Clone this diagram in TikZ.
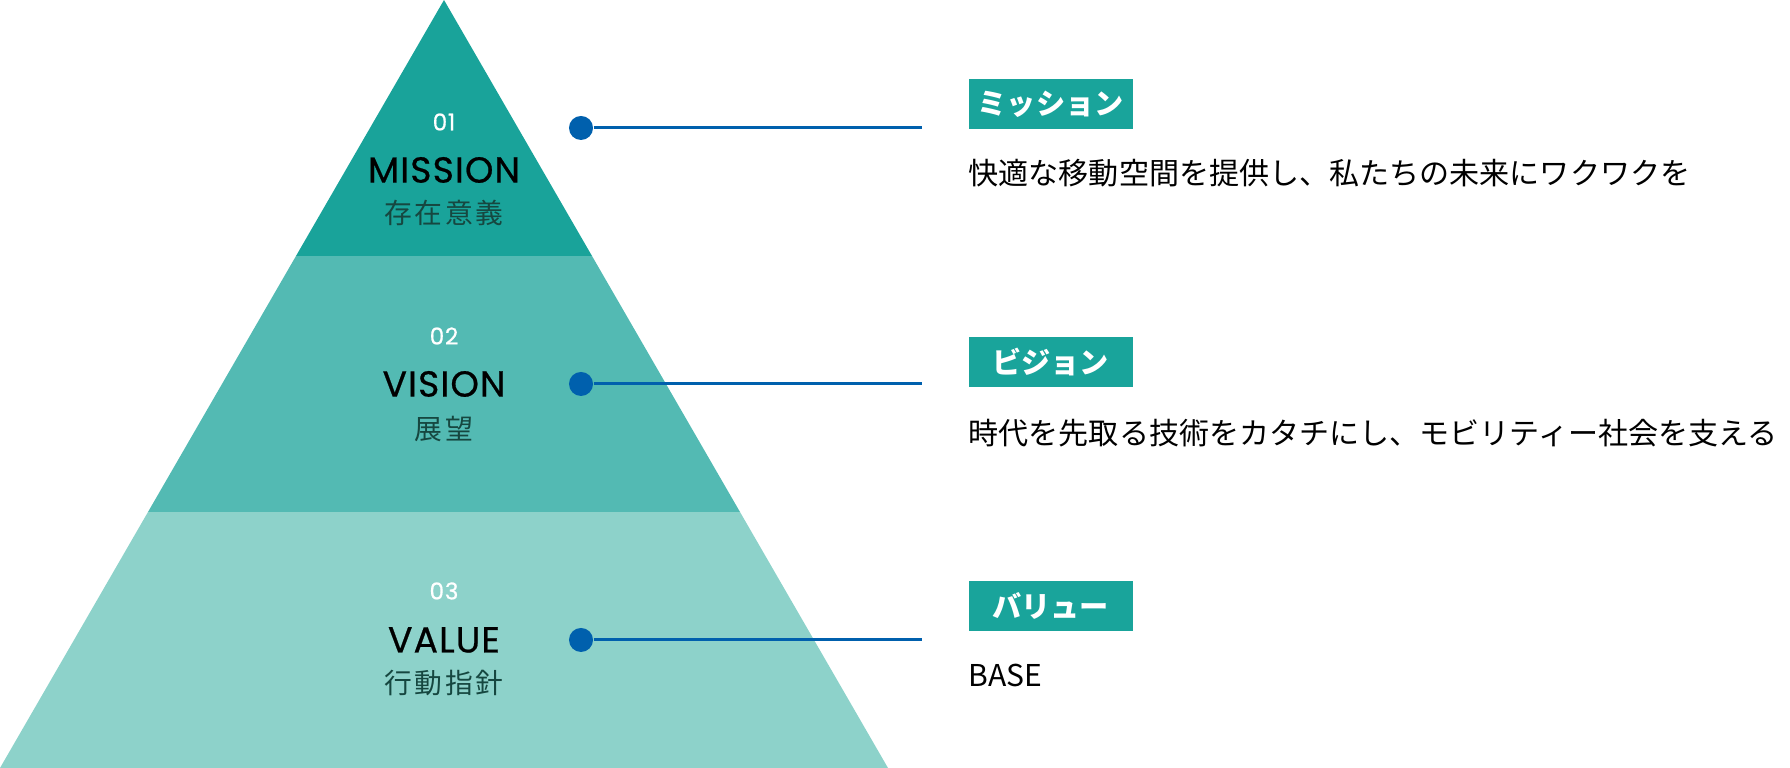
\documentclass[tikz,border=0pt]{standalone}
\usepackage{fontspec}
\setmainfont{Noto Sans CJK JP}
\newfontfamily\jpfont{Noto Sans CJK JP}
\newfontfamily\jpspaced[LetterSpace=10]{Noto Sans CJK JP}
\newfontfamily\geofont[LetterSpace=3,FakeBold=0.6]{Poppins}
\usepackage{tikz}
\usetikzlibrary{positioning}
\definecolor{bandtop}{HTML}{19A39A}
\definecolor{bandmid}{HTML}{53BAB3}
\definecolor{bandlow}{HTML}{8DD2CA}
\definecolor{tagteal}{HTML}{19A49B}
\definecolor{linkblue}{HTML}{0060AD}
\definecolor{jpgreen}{HTML}{164740}
\tikzset{
  lvlnum/.style={text=white,font=\geofont\fontsize{6.6}{7}\selectfont,inner sep=0pt},
  lvltitle/.style={text=black,font=\geofont\fontsize{10.3}{12}\selectfont,inner sep=0pt},
  lvljp/.style={text=jpgreen,font=\jpspaced\fontsize{7.9}{9}\selectfont,inner sep=0pt},
  dot/.style={circle,fill=linkblue,inner sep=0pt,minimum size=0.24cm},
  link/.style={draw=linkblue,line width=0.03cm},
  tagbox/.style={fill=tagteal,text=white,font=\jpfont\bfseries\fontsize{8.3}{10}\selectfont,minimum width=1.64cm,minimum height=0.5cm,inner sep=0pt,anchor=south west},
  desc/.style={font=\jpfont\fontsize{8.55}{11}\selectfont,inner sep=0pt,anchor=west}
}
\begin{document}
\begin{tikzpicture}[x=0.01cm,y=0.01cm]
  \useasboundingbox (0,0) rectangle (1790,768);
  % pyramid
  \fill[bandlow] (0,0) -- (888,0) -- (740,256) -- (148,256) -- cycle;
  \fill[bandmid] (148,256) -- (740,256) -- (592,512) -- (296,512) -- cycle;
  \fill[bandtop] (296,512) -- (592,512) -- (444,768) -- cycle;
  % level texts
  \node[lvlnum] (msnnum) at (444,646) {01};
  \node[lvltitle] (msntitle) at (444,598) {MISSION};
  \node[lvljp] (msnjp) at (444,555) {存在意義};
  \node[lvlnum] (visnum) at (444,432) {02};
  \node[lvltitle] (vistitle) at (444,384) {VISION};
  \node[lvljp] (visjp) at (444,339) {展望};
  \node[lvlnum] (valnum) at (444,177) {03};
  \node[lvltitle] (valtitle) at (444,128) {VALUE};
  \node[lvljp] (valjp) at (444,85) {行動指針};
  % connectors
  \node[dot] (msndot) at (581,640) {};
  \node[dot] (visdot) at (581,384) {};
  \node[dot] (valdot) at (581,128) {};
  \coordinate (msnend) at (922,640);
  \coordinate (visend) at (922,384);
  \coordinate (valend) at (922,128);
  \draw[link] (msndot) -- (msnend);
  \draw[link] (visdot) -- (visend);
  \draw[link] (valdot) -- (valend);
  % labels and descriptions
  \node[tagbox] (msnbox) at (968,638) {ミッション};
  \node[desc] (msndesc) at (968,595) {快適な移動空間を提供し、私たちの未来にワクワクを};
  \node[tagbox] (visbox) at (968,380) {ビジョン};
  \node[desc] (visdesc) at (968,335) {時代を先取る技術をカタチにし、モビリティー社会を支える};
  \node[tagbox] (valbox) at (968,136) {バリュー};
  \node[desc] (valdesc) at (968,93) {BASE};
\end{tikzpicture}
\end{document}
